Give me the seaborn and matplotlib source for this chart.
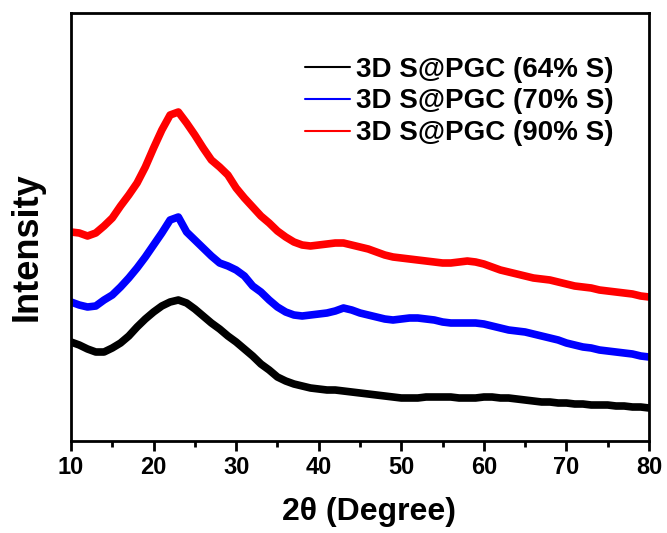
import numpy as np
import pandas as pd
import seaborn as sns
import matplotlib
matplotlib.use("Agg")
import matplotlib.pyplot as plt
from matplotlib.ticker import MultipleLocator

# 2-theta positions (degree)
two_theta = list(range(10, 81))

# Intensities (arbitrary units, offset traces)
pix_red = [232, 233, 236, 233, 226, 218, 206, 195, 183, 167, 148, 130, 115, 112, 123, 135,
           148, 160, 167, 175, 188, 198, 207, 216, 223, 231, 237, 242, 245, 246, 245, 244,
           243, 243, 245, 247, 249, 252, 255, 257, 258, 259, 260, 261, 262, 263, 263, 262,
           261, 262, 264, 267, 270, 272, 274, 276, 278, 279, 280, 282, 284, 286, 287, 288,
           290, 291, 292, 293, 294, 296, 297]
pix_blue = [302, 305, 307, 306, 300, 295, 287, 278, 268, 257, 245, 233, 220, 217, 232, 240,
            248, 256, 263, 266, 270, 276, 286, 292, 300, 307, 312, 315, 316, 315, 314, 313,
            311, 308, 310, 313, 315, 317, 319, 320, 319, 318, 318, 319, 320, 322, 323, 323,
            323, 323, 324, 326, 328, 330, 331, 332, 334, 336, 338, 340, 343, 345, 347, 348,
            350, 351, 352, 353, 354, 356, 357]
pix_black = [342, 345, 349, 352, 352, 348, 343, 336, 327, 319, 312, 306, 302, 300, 303, 309,
             316, 323, 329, 336, 342, 349, 356, 364, 370, 377, 381, 384, 386, 388, 389, 390,
             390, 391, 392, 393, 394, 395, 396, 397, 398, 398, 398, 397, 397, 397, 397, 398,
             398, 398, 397, 397, 398, 398, 399, 400, 401, 402, 402, 403, 403, 404, 404, 405,
             405, 405, 406, 406, 407, 407, 408]

int_64 = [441 - v for v in pix_black]
int_70 = [441 - v for v in pix_blue]
int_90 = [441 - v for v in pix_red]

labels = ["3D S@PGC (64% S)", "3D S@PGC (70% S)", "3D S@PGC (90% S)"]
colors = ["#000000", "#0000ff", "#ff0000"]
x_ticks = [10, 20, 30, 40, 50, 60, 70, 80]

df = pd.concat([
    pd.DataFrame({"x": two_theta, "y": int_64, "sample": labels[0]}),
    pd.DataFrame({"x": two_theta, "y": int_70, "sample": labels[1]}),
    pd.DataFrame({"x": two_theta, "y": int_90, "sample": labels[2]}),
])

sns.set_theme(style="white")
plt.rcParams["font.family"] = ["Liberation Sans", "DejaVu Sans"]
plt.rcParams["font.weight"] = "bold"
plt.rcParams["text.color"] = "black"
plt.rcParams["axes.labelcolor"] = "black"
plt.rcParams["xtick.color"] = "black"
plt.rcParams["ytick.color"] = "black"

fig = plt.figure(figsize=(6.67, 5.33), dpi=100)
ax = fig.add_axes([71 / 667, 92 / 533, 578 / 667, 428 / 533])

sns.lineplot(data=df, x="x", y="y", hue="sample", palette=colors, ax=ax,
             linewidth=5.5, legend=True)

ax.set_xlim(10, 80)
ax.set_ylim(0, 428)
ax.set_xticks(x_ticks)
ax.xaxis.set_minor_locator(MultipleLocator(5))
ax.set_yticks([])
ax.tick_params(axis="x", which="major", direction="out", length=7, width=2,
               labelsize=17, bottom=True, color="black", labelcolor="black", pad=4)
ax.tick_params(axis="x", which="minor", direction="out", length=4, width=2,
               bottom=True, color="black")
for lab in ax.get_xticklabels():
    lab.set_fontweight("bold")

for sp in ax.spines.values():
    sp.set_linewidth(2.0)
    sp.set_color("black")

ax.set_xlabel("2θ (Degree)", fontsize=23, fontweight="bold", color="black")
ax.xaxis.set_label_coords(0.515, -0.132)
ax.set_ylabel("Intensity", fontsize=26, fontweight="bold", color="black")
ax.yaxis.set_label_coords(-0.045, 0.453)

leg = ax.legend(loc="upper left", bbox_to_anchor=(0.405, 0.898), frameon=False,
                fontsize=20, handlelength=1.62, handletextpad=0.22,
                labelspacing=0.21, borderpad=0, borderaxespad=0)
for line in leg.get_lines():
    line.set_linewidth(1.5)
for t in leg.get_texts():
    t.set_fontweight("bold")
    t.set_color("black")

fig.savefig("out.png", dpi=100)
